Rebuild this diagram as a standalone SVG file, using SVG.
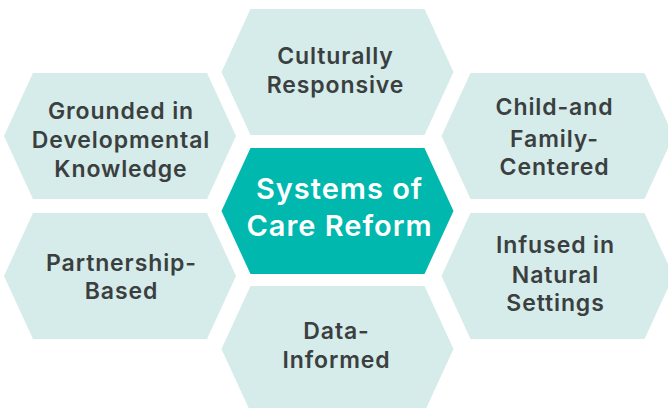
<svg xmlns="http://www.w3.org/2000/svg" xmlns:xlink="http://www.w3.org/1999/xlink" width="668" height="408" viewBox="0 0 668 408">
  <style>
    .hex { fill: #d5ecea; }
    .hub { fill: #00b8ae; }
    .lbl { font-family: Inter, "Open Sans", "Liberation Sans", sans-serif; font-weight: 600; font-size: 23px; letter-spacing: 0.9px; fill: #3b3f3f; text-anchor: middle; }
    .hubtxt { font-family: Inter, "Open Sans", "Liberation Sans", sans-serif; font-weight: 600; font-size: 29px; letter-spacing: 1px; fill: #ffffff; text-anchor: middle; }
  </style>
  <defs>
    <!-- flat-topped hexagon, 232 x 126, centred on the origin -->
    <polygon id="hexShape" points="-116,0 -87,-63 87,-63 116,0 87,63 -87,63"/>
  </defs>
  <rect width="668" height="408" fill="#ffffff"/>

  <g id="culturally-responsive">
    <use xlink:href="#hexShape" class="hex" transform="translate(337.5,72)"/>
    <text class="lbl" x="335.5" y="64">Culturally</text>
    <text class="lbl" x="335.5" y="92.7">Responsive</text>
  </g>

  <g id="grounded-in-developmental-knowledge">
    <use xlink:href="#hexShape" class="hex" transform="translate(120,136)"/>
    <text class="lbl" x="121" y="119">Grounded in</text>
    <text class="lbl" x="121" y="148">Developmental</text>
    <text class="lbl" x="121" y="176.7">Knowledge</text>
  </g>

  <g id="child-and-family-centered">
    <use xlink:href="#hexShape" class="hex" transform="translate(557.5,136)"/>
    <text class="lbl" x="554.5" y="115">Child-and</text>
    <text class="lbl" x="554.5" y="146.7">Family-</text>
    <text class="lbl" x="554.5" y="175">Centered</text>
  </g>

  <g id="systems-of-care-reform">
    <use xlink:href="#hexShape" class="hub" transform="translate(337.5,211)"/>
    <text class="hubtxt" x="339.5" y="198.7">Systems of</text>
    <text class="hubtxt" x="339.5" y="236">Care Reform</text>
  </g>

  <g id="partnership-based">
    <use xlink:href="#hexShape" class="hex" transform="translate(120,276)"/>
    <text class="lbl" x="121.5" y="270.7">Partnership-</text>
    <text class="lbl" x="121.5" y="299">Based</text>
  </g>

  <g id="infused-in-natural-settings">
    <use xlink:href="#hexShape" class="hex" transform="translate(557.5,276)"/>
    <text class="lbl" x="555.5" y="253.3">Infused in</text>
    <text class="lbl" x="555.5" y="283.3">Natural</text>
    <text class="lbl" x="555.5" y="310.7">Settings</text>
  </g>

  <g id="data-informed">
    <use xlink:href="#hexShape" class="hex" transform="translate(337.5,349)"/>
    <text class="lbl" x="336.5" y="339.3">Data-</text>
    <text class="lbl" x="336.5" y="368.3">Informed</text>
  </g>
</svg>
